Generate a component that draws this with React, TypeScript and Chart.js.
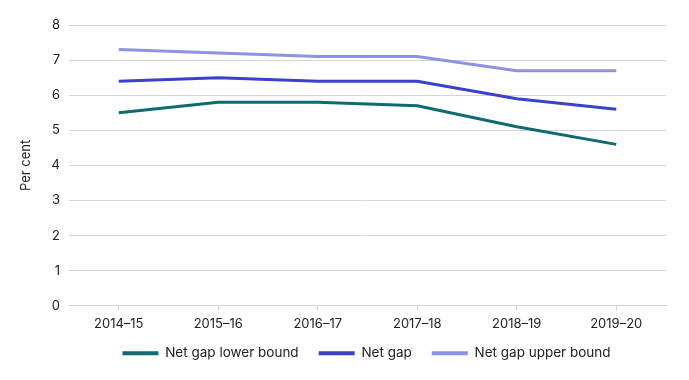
import React, { useEffect, useRef } from "react";
import { Chart, registerables } from "chart.js";

Chart.register(...registerables);

const categories = ["2014–15", "2015–16", "2016–17", "2017–18", "2018–19", "2019–20"];
const lowerBound = [5.5, 5.8, 5.8, 5.7, 5.1, 4.6];
const netGap = [6.4, 6.5, 6.4, 6.4, 5.9, 5.6];
const upperBound = [7.3, 7.2, 7.1, 7.1, 6.7, 6.7];
const seriesNames = ["Net gap lower bound", "Net gap", "Net gap upper bound"];
const seriesColors = ["#0f6b70", "#3a41cc", "#8d92e2"];

const FONT = "Inter, 'Noto Sans', sans-serif";

const centerLegend = {
  id: "centerLegend",
  afterLayout(chart: any) {
    const lg = chart.legend;
    const ca = chart.chartArea;
    if (!lg || !ca) return;
    const off = (ca.left + ca.right) / 2 - (lg.left + lg.right) / 2 - 1;
    lg.left += off;
    lg.right += off;
    const dy = -10;
    lg.top += dy;
    lg.bottom += dy;
  },
};

export default function App() {
  const ref = useRef<HTMLCanvasElement>(null);
  useEffect(() => {
    document.body.style.margin = "0";
    const ctx = ref.current!;
    const values = [lowerBound, netGap, upperBound];
    const chart = new Chart(ctx, {
      type: "line",
      data: {
        labels: categories,
        datasets: values.map((v, i) => ({
          label: seriesNames[i],
          data: v,
          borderColor: seriesColors[i],
          backgroundColor: seriesColors[i],
          borderWidth: 3,
          pointRadius: 0,
          tension: 0,
          fill: false,
        })),
      },
      options: {
        animation: false,
        responsive: false,
        devicePixelRatio: 1,
        layout: { padding: { left: 14, right: 23, top: 25, bottom: 0 } },
        plugins: {
          legend: {
            position: "bottom",
            labels: {
              boxWidth: 36,
              boxHeight: 4,
              padding: 20,
              color: "#222",
              font: { family: FONT, size: 13.5 },
              generateLabels: (chart: any) =>
                Chart.defaults.plugins.legend.labels.generateLabels(chart).map((l: any) => ({
                  ...l,
                  lineWidth: 0,
                })),
            },
          },
          tooltip: { enabled: false },
        },
        scales: {
          x: {
            offset: true,
            grid: {
              display: true,
              drawOnChartArea: false,
              drawTicks: true,
              tickLength: 5,
              color: "#d4d4d4",
            },
            border: { display: true, color: "#d4d4d4" },
            ticks: { color: "#222", padding: 5, font: { family: FONT, size: 13 }, maxRotation: 0 },
          },
          y: {
            min: 0,
            max: 8,
            ticks: { stepSize: 1, color: "#222", padding: 9, font: { family: FONT, size: 13 } },
            grid: { color: "#d4d4d4", drawTicks: false },
            border: { display: false },
            title: {
              display: true,
              text: "Per cent",
              color: "#222",
              font: { family: FONT, size: 13 },
              padding: { top: 4, bottom: 4 },
            },
            afterFit: (scale: any) => {
              scale.width = 55;
            },
          },
        },
      },
      plugins: [centerLegend],
    });
    return () => chart.destroy();
  }, []);
  return <canvas ref={ref} width={689} height={380} style={{ display: "block" }} />;
}
